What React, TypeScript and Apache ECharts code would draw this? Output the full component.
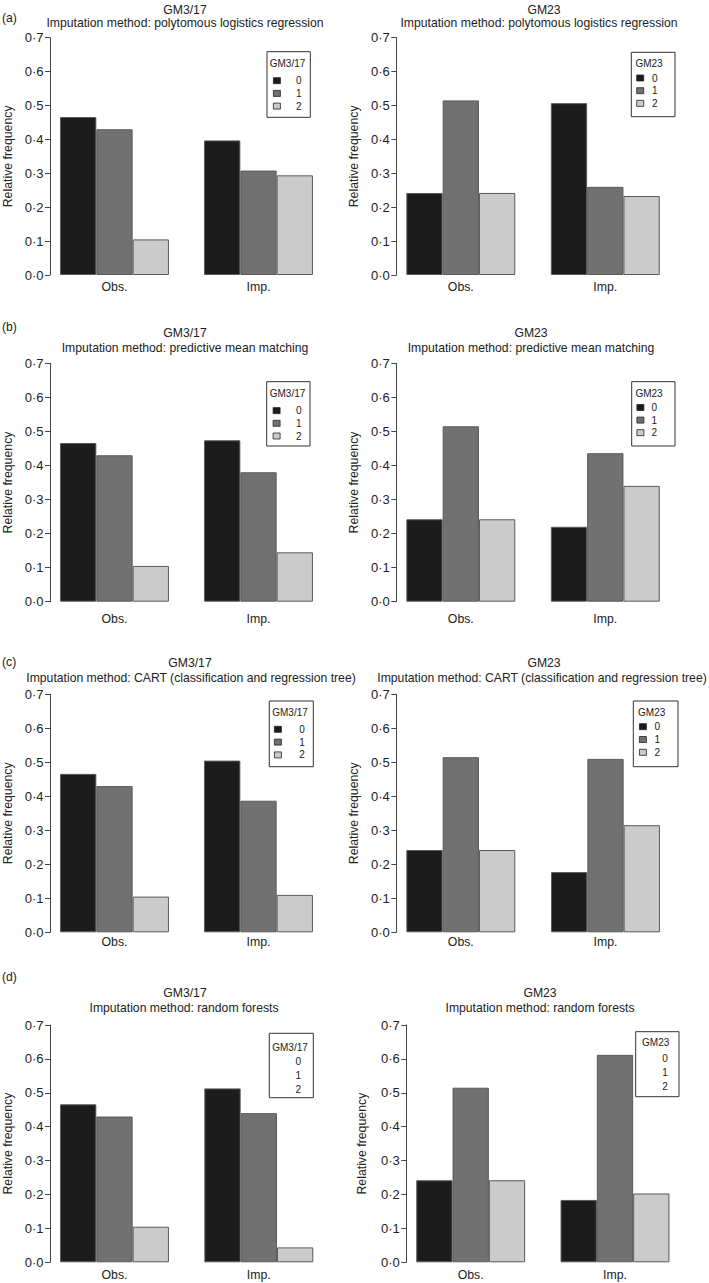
import React, { useEffect, useRef } from "react";
import * as echarts from "echarts";

// ---------- data ----------
const groups = ["Obs.", "Imp."];
const levels = ["0", "1", "2"];
const variables = ["GM3/17", "GM23"];
const methods = [
  "polytomous logistics regression",
  "predictive mean matching",
  "CART (classification and regression tree)",
  "random forests",
];
const panelLetters = ["(a)", "(b)", "(c)", "(d)"];
const yAxisTitle = "Relative frequency";

const obsGM317 = [0.466, 0.43, 0.105];
const obsGM23 = [0.242, 0.515, 0.242];

const impPolyregGM317 = [0.397, 0.308, 0.294];
const impPolyregGM23 = [0.507, 0.26, 0.233];
const impPmmGM317 = [0.474, 0.38, 0.145];
const impPmmGM23 = [0.22, 0.436, 0.34];
const impCartGM317 = [0.505, 0.387, 0.11];
const impCartGM23 = [0.177, 0.51, 0.315];
const impRfGM317 = [0.513, 0.44, 0.044];
const impRfGM23 = [0.184, 0.612, 0.203];

const yMin = 0;
const yMax = 0.7;
const yStep = 0.1;

// per panel data: [row][col]
const panelObs = [
  [obsGM317, obsGM23],
  [obsGM317, obsGM23],
  [obsGM317, obsGM23],
  [obsGM317, obsGM23],
];
const panelImp = [
  [impPolyregGM317, impPolyregGM23],
  [impPmmGM317, impPmmGM23],
  [impCartGM317, impCartGM23],
  [impRfGM317, impRfGM23],
];

// ---------- layout / style ----------
const FONT = "'Liberation Sans', Arial, Helvetica, sans-serif";
const barColors = ["#1c1c1c", "#717171", "#cbcbcb"];
const barBorder = "#5a5a5a";
const BAR_W = 36.3;
const TITLE_FS = 12.2;
const LABEL_FS = 12.3;
const TICK_FS = 13;
const LEG_FS = 10;

const rowLayout = [
  { y07: 37.7, y0: 275, titleY: 9.5, subY: 23, letterY: 18, xLabMargin: 5.5 },
  { y07: 363.3, y0: 601.7, titleY: 333.3, subY: 348.3, letterY: 327, xLabMargin: 11.1 },
  { y07: 694.3, y0: 932.3, titleY: 663.3, subY: 678.3, letterY: 662, xLabMargin: 3.2 },
  { y07: 1025, y0: 1262.3, titleY: 993.3, subY: 1007.7, letterY: 977, xLabMargin: 6.5 },
];

const panelLayout = [
  [
    { axisX: 50, obsC: 114.5, impC: 258.5, titleX: 185, subX: 185, nameGap: 35.7,
      box: [267, 51.7, 43.3, 65.6], lt: [287.5, 63.3], sqX: 273, itemY: 80.7, sp: 12.7, pad: 10.5, icons: true },
    { axisX: 396.3, obsC: 460.8, impC: 605.3, titleX: 544, subX: 539, nameGap: 36.8,
      box: [631.3, 52.3, 43.7, 64.4], lt: [649, 63], sqX: 636.3, itemY: 78, sp: 12.7, pad: 3.4, icons: true },
  ],
  [
    { axisX: 50, obsC: 114.5, impC: 258.5, titleX: 185, subX: 185, nameGap: 35.7,
      box: [266.7, 381.7, 43.3, 64.3], lt: [287.5, 393.3], sqX: 272.7, itemY: 410.6, sp: 12.7, pad: 10.8, icons: true },
    { axisX: 396.3, obsC: 460.8, impC: 605.3, titleX: 531, subX: 531, nameGap: 36.8,
      box: [631.7, 381.7, 43.3, 64.3], lt: [649, 393.3], sqX: 636.5, itemY: 407.5, sp: 12.6, pad: 2.5, icons: true },
  ],
  [
    { axisX: 50, obsC: 114.5, impC: 258.5, titleX: 190, subX: 191, nameGap: 35.7,
      box: [269.3, 701, 44, 65.7], lt: [290, 712.7], sqX: 274, itemY: 729.3, sp: 12.8, pad: 12.9, icons: true },
    { axisX: 396.3, obsC: 460.8, impC: 605.5, titleX: 544, subX: 542, nameGap: 36.8,
      box: [633.3, 701, 44.7, 65.7], lt: [651.7, 712.7], sqX: 639, itemY: 726.7, sp: 12.8, pad: 3, icons: true },
  ],
  [
    { axisX: 50, obsC: 114.5, impC: 258.8, titleX: 185, subX: 184, nameGap: 35.7,
      box: [269.3, 1033.3, 44, 64.4], lt: [290, 1047.3], sqX: 273, itemY: 1061.7, sp: 13.8, pad: 10.5, icons: false },
    { axisX: 406.3, obsC: 470.7, impC: 615, titleX: 540, subX: 540, nameGap: 38.3,
      box: [635.7, 1031.7, 43.3, 65], lt: [655.7, 1042.7], sqX: 645, itemY: 1058.3, sp: 14.2, pad: 5.2, icons: false },
  ],
];

const fmtTick = (v: number) => v.toFixed(1).replace(".", "\u00B7");

function buildOption() {
  const grid: any[] = [];
  const xAxis: any[] = [];
  const yAxis: any[] = [];
  const series: any[] = [];
  const legend: any[] = [];
  const graphic: any[] = [];

  let idx = 0;
  for (let r = 0; r < 4; r++) {
    const rl = rowLayout[r];
    graphic.push({
      type: "text",
      x: 2,
      y: rl.letterY,
      style: { text: panelLetters[r], fontSize: TITLE_FS, fontFamily: FONT, fill: "#222", align: "left", verticalAlign: "middle" },
    });
    for (let c = 0; c < 2; c++) {
      const pl = panelLayout[r][c];
      const band = pl.impC - pl.obsC;
      const gLeft = pl.obsC - band / 2;
      grid.push({ left: gLeft, width: band * 2, top: rl.y07, height: rl.y0 - rl.y07, containLabel: false });
      xAxis.push({
        type: "category",
        gridIndex: idx,
        data: groups,
        axisLine: { show: false },
        axisTick: { show: false },
        axisLabel: { margin: rl.xLabMargin, fontSize: LABEL_FS, fontFamily: FONT, color: "#222", lineHeight: 12.5 },
      });
      yAxis.push({
        type: "value",
        gridIndex: idx,
        min: yMin,
        max: yMax,
        interval: yStep,
        offset: gLeft - pl.axisX,
        name: yAxisTitle,
        nameLocation: "middle",
        nameRotate: 90,
        nameGap: pl.nameGap,
        nameTextStyle: { fontSize: LABEL_FS, fontFamily: FONT, color: "#222", lineHeight: 12 },
        axisLine: { show: true, lineStyle: { color: "#444", width: 1 } },
        axisTick: { show: true, length: 5, lineStyle: { color: "#444", width: 1 } },
        axisLabel: { margin: 6.5, fontSize: TICK_FS, fontFamily: FONT, color: "#222", formatter: fmtTick },
        splitLine: { show: false },
      });
      const obs = panelObs[r][c];
      const imp = panelImp[r][c];
      for (let k = 0; k < levels.length; k++) {
        series.push({
          type: "bar",
          name: levels[k],
          xAxisIndex: idx,
          yAxisIndex: idx,
          data: [obs[k], imp[k]],
          barWidth: BAR_W,
          barGap: "0%",
          itemStyle: { color: barColors[k], borderColor: barBorder, borderWidth: 1 },
          emphasis: { disabled: true },
        });
      }
      legend.push({
        data: levels,
        orient: "vertical",
        left: pl.sqX,
        top: pl.itemY - 5,
        padding: 0,
        itemWidth: 7,
        itemHeight: 6,
        itemGap: pl.sp - 10,
        selectedMode: false,
        icon: "rect",
        itemStyle: pl.icons
          ? { borderColor: "#222", borderWidth: 0.8 }
          : { opacity: 0, borderWidth: 0 },
        textStyle: { fontSize: LEG_FS, lineHeight: 10, fontFamily: FONT, color: "#222", padding: [0, 0, 0, pl.pad] },
      });
      graphic.push({
        type: "rect",
        shape: { x: pl.box[0], y: pl.box[1], width: pl.box[2], height: pl.box[3] },
        style: { fill: "none", stroke: "#333", lineWidth: 1 },
        z: 10,
      });
      graphic.push({
        type: "text",
        x: pl.lt[0],
        y: pl.lt[1],
        style: { text: variables[c], fontSize: LEG_FS, fontFamily: FONT, fill: "#222", align: "center", verticalAlign: "middle" },
        z: 10,
      });
      graphic.push({
        type: "text",
        x: pl.titleX,
        y: rl.titleY,
        style: { text: variables[c], fontSize: TITLE_FS, fontFamily: FONT, fill: "#222", align: "center", verticalAlign: "middle" },
      });
      graphic.push({
        type: "text",
        x: pl.subX,
        y: rl.subY,
        style: {
          text: "Imputation method: " + methods[r],
          fontSize: TITLE_FS,
          fontFamily: FONT,
          fill: "#222",
          align: "center",
          verticalAlign: "middle",
        },
      });
      idx++;
    }
  }

  return {
    animation: false,
    backgroundColor: "#ffffff",
    grid,
    xAxis,
    yAxis,
    series,
    legend,
    graphic,
  };
}

export default function App() {
  const ref = useRef<HTMLDivElement>(null);
  useEffect(() => {
    if (!ref.current) return;
    const chart = echarts.init(ref.current, undefined, { renderer: "svg" });
    chart.setOption(buildOption() as any);
    return () => chart.dispose();
  }, []);
  return (
    <div
      ref={ref}
      style={{ position: "absolute", left: 0, top: 0, width: 709, height: 1283, background: "#fff" }}
    />
  );
}
